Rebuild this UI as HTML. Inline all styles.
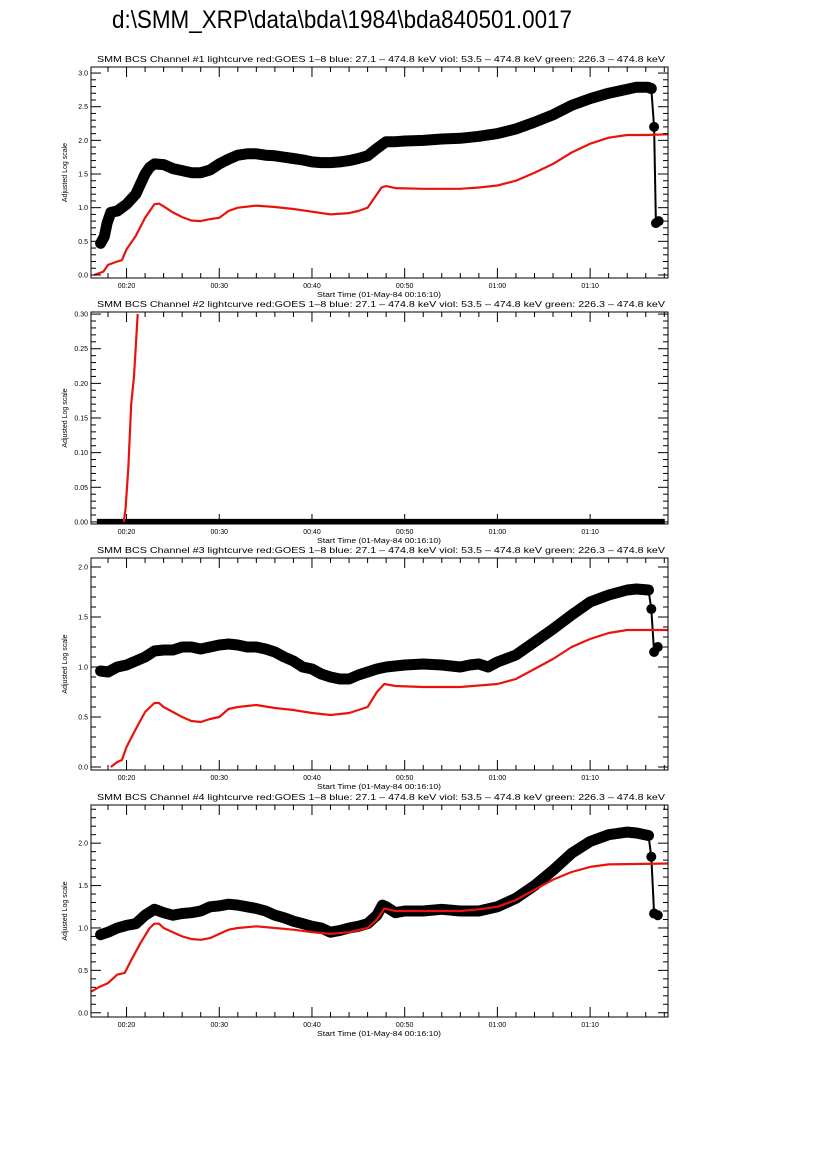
<!DOCTYPE html>
<html><head><meta charset="utf-8"><style>
html,body{margin:0;padding:0;background:#fff;}
svg{display:block;font-family:"Liberation Sans",sans-serif;}
</style></head><body>
<svg id="fig" width="826" height="1169" viewBox="0 0 826 1169" xmlns="http://www.w3.org/2000/svg">
<rect width="826" height="1169" fill="#fff"/>
<text x="112" y="28" font-size="25" textLength="460" lengthAdjust="spacingAndGlyphs" fill="#000">d:\SMM_XRP\data\bda\1984\bda840501.0017</text>
</svg>
<script>
// ---- data (time in minutes after 00:00, value) ----
const ch1Black = [[17.2,0.47],[17.6,0.57],[17.9,0.77],[18.3,0.93],[19,0.95],[20,1.05],[21,1.2],[21.5,1.35],[22,1.5],[22.5,1.6],[23,1.65],[24,1.64],[25,1.58],[26,1.55],[27,1.52],[28,1.52],[29,1.56],[30,1.65],[31,1.72],[32,1.78],[33,1.8],[34,1.8],[35,1.78],[36,1.77],[37,1.75],[38,1.73],[39,1.71],[40,1.68],[41,1.67],[42,1.67],[43,1.68],[44,1.7],[45,1.73],[46,1.77],[47,1.88],[48,1.98],[49,1.98],[50,1.99],[52,2.0],[54,2.02],[56,2.03],[58,2.06],[60,2.1],[62,2.17],[64,2.27],[66,2.38],[68,2.52],[70,2.62],[72,2.7],[74,2.76],[75,2.79],[76.2,2.79],[76.6,2.77],[76.9,2.2],[77.1,0.77],[77.4,0.8]];
const ch1Red = [[16.5,0.0],[17.5,0.05],[18,0.15],[19,0.2],[19.5,0.22],[20,0.38],[21,0.58],[22,0.85],[23,1.05],[23.5,1.06],[24,1.02],[25,0.93],[26,0.86],[27,0.81],[28,0.8],[29,0.83],[30,0.85],[31,0.95],[32,1.0],[34,1.03],[36,1.01],[38,0.98],[40,0.94],[42,0.9],[44,0.92],[45,0.95],[46,1.0],[47,1.2],[47.5,1.3],[48,1.32],[49,1.29],[52,1.28],[56,1.28],[58,1.3],[60,1.33],[62,1.4],[64,1.52],[66,1.65],[68,1.82],[70,1.95],[72,2.04],[74,2.08],[76,2.08],[78.4,2.09]];
const ch2Black = [[16.8,0.0],[30,0.0],[45,0.0],[60,0.0],[78,0.0]];
const ch2Red = [[19.7,0.0],[19.9,0.02],[20.2,0.08],[20.5,0.17],[20.8,0.21],[21.2,0.3]];
const ch3Black = [[17.2,0.96],[18,0.95],[19,1.0],[20,1.02],[21,1.06],[22,1.1],[23,1.16],[24,1.17],[25,1.17],[26,1.2],[27,1.2],[28,1.18],[29,1.2],[30,1.22],[31,1.23],[32,1.22],[33,1.2],[34,1.2],[35,1.18],[36,1.15],[37,1.1],[38,1.06],[39,1.0],[40,0.98],[41,0.93],[42,0.9],[43,0.88],[44,0.88],[45,0.92],[46,0.95],[47,0.98],[48,1.0],[50,1.02],[52,1.03],[54,1.02],[56,1.0],[57,1.02],[58,1.03],[59,1.0],[60,1.05],[62,1.12],[64,1.25],[66,1.38],[68,1.52],[70,1.65],[72,1.72],[74,1.77],[75,1.78],[76.3,1.77],[76.6,1.58],[76.9,1.15],[77.3,1.2]];
const ch3Red = [[18.3,0.0],[19,0.05],[19.5,0.07],[20,0.2],[21,0.38],[22,0.55],[23,0.64],[23.5,0.64],[24,0.6],[25,0.55],[26,0.5],[27,0.46],[28,0.45],[29,0.48],[30,0.5],[31,0.58],[32,0.6],[34,0.62],[36,0.59],[38,0.57],[40,0.54],[42,0.52],[44,0.54],[46,0.6],[47,0.75],[47.8,0.83],[49,0.81],[52,0.8],[56,0.8],[60,0.83],[62,0.88],[64,0.98],[66,1.08],[68,1.2],[70,1.28],[72,1.34],[74,1.37],[78.4,1.37]];
const ch4Black = [[17.2,0.92],[18,0.95],[19,1.0],[20,1.03],[21,1.05],[22,1.15],[23,1.22],[24,1.18],[25,1.15],[26,1.17],[27,1.18],[28,1.2],[29,1.25],[30,1.26],[31,1.28],[32,1.27],[33,1.25],[34,1.23],[35,1.2],[36,1.15],[37,1.12],[38,1.08],[39,1.05],[40,1.02],[41,1.0],[42,0.95],[43,0.97],[44,1.0],[45,1.02],[46,1.05],[47,1.15],[47.6,1.27],[48,1.25],[49,1.18],[50,1.2],[52,1.2],[54,1.22],[56,1.2],[58,1.2],[60,1.25],[62,1.35],[64,1.5],[66,1.68],[68,1.88],[70,2.02],[72,2.1],[74,2.13],[75,2.12],[76.3,2.09],[76.6,1.84],[76.9,1.17],[77.3,1.15]];
const ch4Red = [[16.2,0.25],[17,0.3],[18,0.35],[19,0.45],[19.8,0.47],[20.5,0.62],[21.5,0.82],[22.5,1.0],[23,1.05],[23.5,1.05],[24,1.0],[25,0.95],[26,0.9],[27,0.87],[28,0.86],[29,0.88],[30,0.93],[31,0.98],[32,1.0],[34,1.02],[36,1.0],[38,0.98],[40,0.95],[42,0.93],[44,0.95],[46,1.0],[47,1.1],[47.8,1.23],[49,1.2],[52,1.2],[56,1.2],[58,1.22],[60,1.25],[62,1.33],[64,1.45],[66,1.57],[68,1.66],[70,1.72],[72,1.75],[78.4,1.76]];
const xTickMinutes = [20,30,40,50,60,70];
const xTickLabels = ["00:20","00:30","00:40","00:50","01:00","01:10"];
const yTicks1 = [0,0.5,1.0,1.5,2.0,2.5,3.0];
const yTicks2 = [0,0.05,0.10,0.15,0.20,0.25,0.30];
const yTicks3 = [0,0.5,1.0,1.5,2.0];
const yTicks4 = [0,0.5,1.0,1.5,2.0];
const yLabels1 = ["0.0","0.5","1.0","1.5","2.0","2.5","3.0"];
const yLabels2 = ["0.00","0.05","0.10","0.15","0.20","0.25","0.30"];
const yLabels3 = ["0.0","0.5","1.0","1.5","2.0"];
const yLabels4 = ["0.0","0.5","1.0","1.5","2.0"];

const NS="http://www.w3.org/2000/svg";
const svg=document.getElementById('fig');
const X0=91,X1=668,TMIN=16+10/60,TMAX=78.4;
function mk(tag,attrs,parent){const e=document.createElementNS(NS,tag);for(const k in attrs)e.setAttribute(k,attrs[k]);(parent||svg).appendChild(e);return e;}

const panels=[
 {n:1,top:67,bot:278,ymin:-0.045,ymax:3.09,ticks:yTicks1,labels:yLabels1,minor:0.1,black:ch1Black,red:ch1Red,dots:true},
 {n:2,top:312,bot:524,ymin:-0.003,ymax:0.303,ticks:yTicks2,labels:yLabels2,minor:0.01,black:ch2Black,red:ch2Red,dots:false},
 {n:3,top:558,bot:770,ymin:-0.03,ymax:2.09,ticks:yTicks3,labels:yLabels3,minor:0.1,black:ch3Black,red:ch3Red,dots:true},
 {n:4,top:805,bot:1017,ymin:-0.05,ymax:2.45,ticks:yTicks4,labels:yLabels4,minor:0.1,black:ch4Black,red:ch4Red,dots:true}
];
const ttl="SMM BCS Channel #N lightcurve  red:GOES 1\u20138  blue: 27.1 \u2013 474.8 keV  viol: 53.5 \u2013 474.8 keV  green: 226.3 \u2013 474.8 keV";

panels.forEach(p=>{
 const g=mk('g',{});
 
 
 const xs=t=>X0+(t-TMIN)/(TMAX-TMIN)*(X1-X0);
 const ys=v=>p.bot-(v-p.ymin)/(p.ymax-p.ymin)*(p.bot-p.top);
 const clip=mk('clipPath',{id:'c'+p.n},g);mk('rect',{x:X0,y:p.top,width:X1-X0,height:p.bot-p.top},clip);
 const t=mk('text',{x:97,y:p.top-5,'font-size':8.5,textLength:568,lengthAdjust:'spacingAndGlyphs'},g);
 t.textContent=ttl.replace('N',p.n);
 
 
 const dg=mk('g',{'clip-path':'url(#c'+p.n+')'},g);
 const pts=arr=>arr.map(d=>xs(d[0]).toFixed(1)+','+ys(d[1]).toFixed(1)).join(' ');
 if(p.dots){
  const main=p.black.slice(0,p.black.length-3);
  const bl=mk('polyline',{points:pts(main),fill:'none',stroke:'#000','stroke-width':11,'stroke-linejoin':'round','stroke-linecap':'round'},dg);
  
  
  mk('polyline',{points:pts(p.black),fill:'none',stroke:'#000','stroke-width':2},dg);
  p.black.slice(p.black.length-3).forEach(d=>{const c=mk('circle',{cx:xs(d[0]),cy:ys(d[1]),r:5,fill:'#000'},dg);
   
   });
 } else {
  const bl=mk('polyline',{points:pts(p.black),fill:'none',stroke:'#000','stroke-width':6},dg);
  
  
 }
 const rl=mk('polyline',{points:pts(p.red),fill:'none',stroke:'#e8140c','stroke-width':2.2,'stroke-linejoin':'round'},dg);
 
 
 mk('rect',{x:X0,y:p.top,width:X1-X0,height:p.bot-p.top,fill:'none',stroke:'#000','stroke-width':1},g);
 for(let v=0;v<=p.ymax+1e-9;v+=p.minor){const y=ys(v);const isMaj=p.ticks.some(m=>Math.abs(m-v)<1e-6);const L=isMaj?10:5;
  mk('line',{x1:X0,y1:y,x2:X0+L,y2:y,stroke:'#000','stroke-width':1},g);
  mk('line',{x1:X1,y1:y,x2:X1-L,y2:y,stroke:'#000','stroke-width':1},g);}
 p.ticks.forEach((v,i)=>{const tl=mk('text',{x:X0-3,y:ys(v)+2.5,'font-size':7,'text-anchor':'end'},g);tl.textContent=p.labels[i];
  
  });
 for(let m=18;m<=78;m+=2){const x=xs(m);const L=(m%10===0)?10:5;
  mk('line',{x1:x,y1:p.bot,x2:x,y2:p.bot-L,stroke:'#000','stroke-width':1},g);
  mk('line',{x1:x,y1:p.top,x2:x,y2:p.top+L,stroke:'#000','stroke-width':1},g);}
 xTickMinutes.forEach((m,i)=>{const tl=mk('text',{x:xs(m),y:p.bot+10,'font-size':7,'text-anchor':'middle'},g);tl.textContent=xTickLabels[i];
  
  });
 const xl=mk('text',{x:317,y:p.bot+19,'font-size':7,textLength:124,lengthAdjust:'spacingAndGlyphs'},g);xl.textContent='Start Time (01-May-84 00:16:10)';
 
 
 const cy=(p.top+p.bot)/2;
 const yl=mk('text',{x:0,y:0,'font-size':7,'text-anchor':'middle',transform:'translate(67,'+cy+') rotate(-90)'},g);yl.textContent='Adjusted Log scale';
 
 
});
</script>
</body></html>
